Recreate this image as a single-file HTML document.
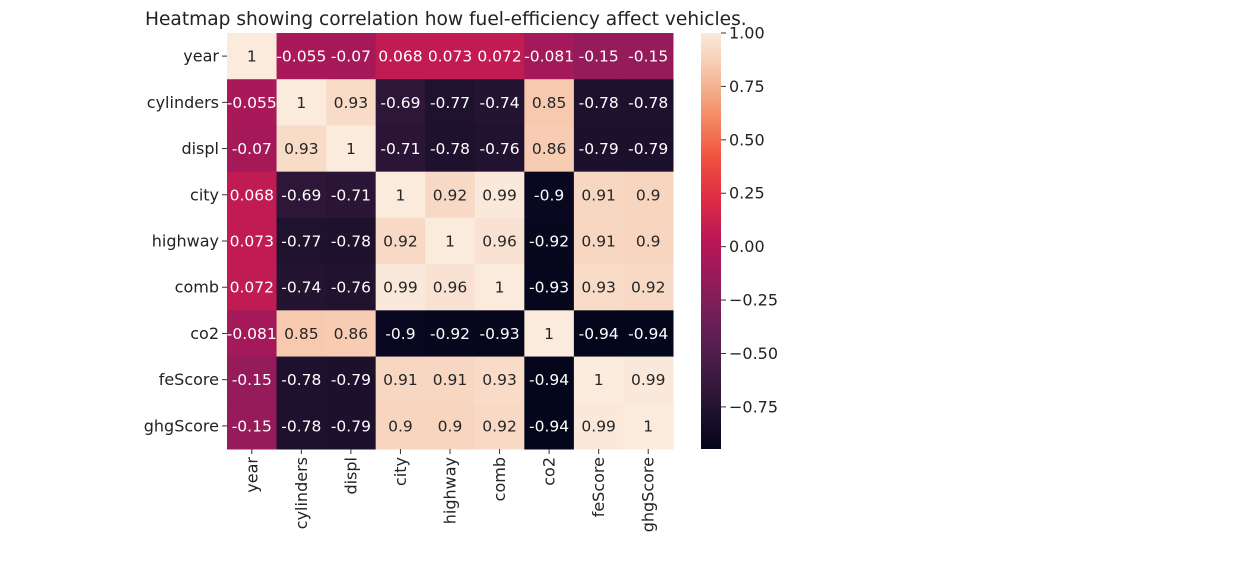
<!DOCTYPE html>
<html><head><meta charset="utf-8"><style>
body{margin:0;background:#fff;font-family:"DejaVu Sans","Liberation Sans",sans-serif;}
svg text{font-family:"DejaVu Sans","Liberation Sans",sans-serif;}
</style></head><body>
<svg id="chart" width="1242" height="568" xmlns="http://www.w3.org/2000/svg">
<text x="145" y="25" font-size="18.6" fill="#222">Heatmap showing correlation how fuel-efficiency affect vehicles.</text>
<g id="cells"></g><g id="labels"></g><g id="cbar"></g>
</svg>
<script>
const categories=["year","cylinders","displ","city","highway","comb","co2","feScore","ghgScore"];
const values=[
[1,-0.055,-0.07,0.068,0.073,0.072,-0.081,-0.15,-0.15],
[-0.055,1,0.93,-0.69,-0.77,-0.74,0.85,-0.78,-0.78],
[-0.07,0.93,1,-0.71,-0.78,-0.76,0.86,-0.79,-0.79],
[0.068,-0.69,-0.71,1,0.92,0.99,-0.9,0.91,0.9],
[0.073,-0.77,-0.78,0.92,1,0.96,-0.92,0.91,0.9],
[0.072,-0.74,-0.76,0.99,0.96,1,-0.93,0.93,0.92],
[-0.081,0.85,0.86,-0.9,-0.92,-0.93,1,-0.94,-0.94],
[-0.15,-0.78,-0.79,0.91,0.91,0.93,-0.94,1,0.99],
[-0.15,-0.78,-0.79,0.9,0.9,0.92,-0.94,0.99,1]];
const cbarTicks=[1.0,0.75,0.5,0.25,0,-0.25,-0.5,-0.75];
const cbarLabels=["1.00","0.75","0.50","0.25","0.00","\u22120.25","\u22120.50","\u22120.75"];
const vmin=-0.947,vmax=1;
const X0=227,Y0=33,W=446,H=416,CBX=701,CBW=20;
const cw=W/categories.length,ch=H/categories.length;
const stops=[[3,5,26],[34,19,49],[69,28,71],[106,31,86],[146,28,91],[185,22,87],[221,44,69],[240,81,63],[244,140,100],[246,192,162],[250,235,221]];
function cmap(v){let t=Math.max(0,Math.min(1,(v-vmin)/(vmax-vmin)))*10;let i=Math.min(9,Math.floor(t)),f=t-i;
const a=stops[i],b=stops[i+1];return [0,1,2].map(k=>Math.round(a[k]+(b[k]-a[k])*f));}
function rgb(c){return `rgb(${c[0]},${c[1]},${c[2]})`;}
function lum(c){return (0.299*c[0]+0.587*c[1]+0.114*c[2])/255;}
const NS="http://www.w3.org/2000/svg";
function mk(tag,attrs,parent){const e=document.createElementNS(NS,tag);for(const k in attrs)e.setAttribute(k,attrs[k]);parent.appendChild(e);return e;}
const gc=document.getElementById('cells'),gl=document.getElementById('labels'),gb=document.getElementById('cbar');
values.forEach((row,r)=>row.forEach((v,c)=>{
 const col=cmap(v);
 const rect=mk('rect',{x:X0+c*cw,y:Y0+r*ch,width:cw+0.5,height:ch+0.5,fill:rgb(col)},gc);
 
 
 const t=mk('text',{x:X0+(c+0.5)*cw,y:Y0+(r+0.5)*ch+5.5,'text-anchor':'middle','font-size':'15.5',fill:lum(col)>0.55?'#262626':'#fff'},gc);
 t.textContent=String(v);
 
 
}));
categories.forEach((n,i)=>{
 const y=Y0+(i+0.5)*ch;
 mk('line',{x1:X0-5,x2:X0,y1:y,y2:y,stroke:'#333'},gl);
 const t=mk('text',{x:X0-8,y:y+5.5,'text-anchor':'end','font-size':'16','fill':'#222'},gl);
 t.textContent=n;
 
 
 const x=X0+(i+0.5)*cw;
 mk('line',{x1:x,x2:x,y1:Y0+H,y2:Y0+H+5,stroke:'#333'},gl);
 const tx=mk('text',{x:x+5.5,y:Y0+H+8,'text-anchor':'end','font-size':'16',fill:'#222',transform:`rotate(-90 ${x+5.5} ${Y0+H+8})`},gl);
 tx.textContent=n;
 
 
});
const defs=mk('defs',{},gb);
const lg=mk('linearGradient',{id:'cg',x1:0,y1:1,x2:0,y2:0},defs);
for(let k=0;k<=20;k++){const v=vmin+(vmax-vmin)*k/20;mk('stop',{offset:k/20,'stop-color':rgb(cmap(v))},lg);}
const cb=mk('rect',{x:CBX,y:Y0,width:CBW,height:H,fill:'url(#cg)'},gb);


const cy=v=>Y0+(vmax-v)/(vmax-vmin)*H;
cbarTicks.forEach((v,i)=>{
 const y=cy(v);
 mk('line',{x1:CBX+CBW,x2:CBX+CBW+5,y1:y,y2:y,stroke:'#333'},gb);
 const t=mk('text',{x:CBX+CBW+8,y:y+5.5,'font-size':'16',fill:'#222'},gb);
 t.textContent=cbarLabels[i];
 
 
});
</script>
</body></html>
